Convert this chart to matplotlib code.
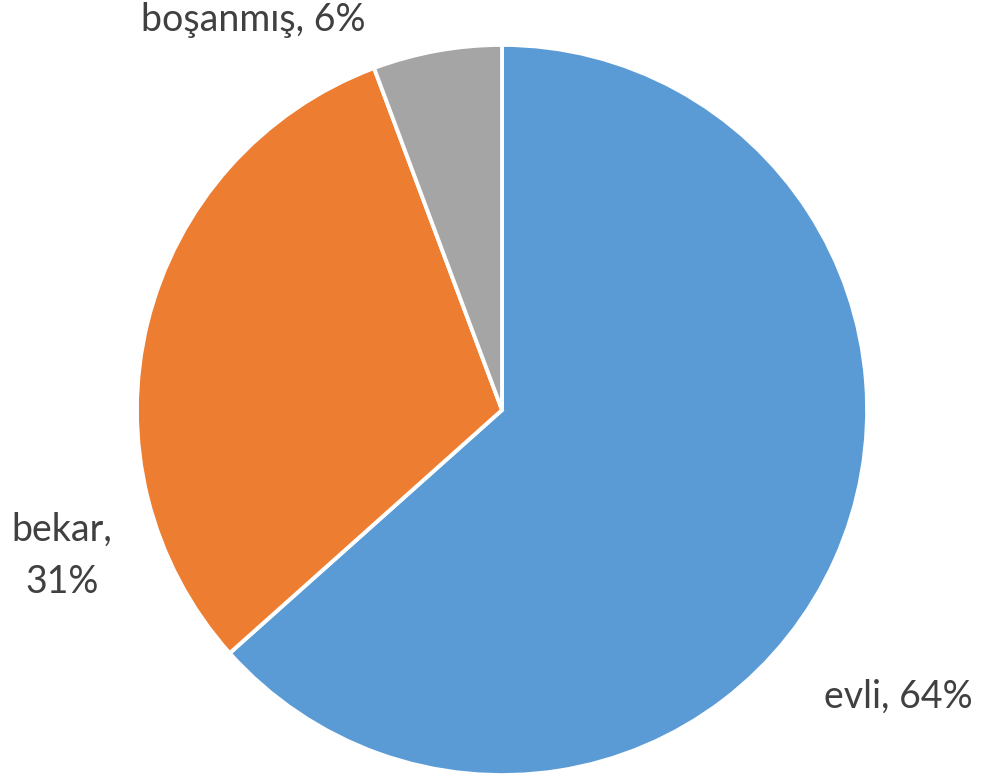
import matplotlib
matplotlib.use("Agg")
import matplotlib.pyplot as plt

categories = ["evli", "bekar", "boşanmış"]
values = [63.4, 30.9, 5.7]
pct_labels = ["64%", "31%", "6%"]
colors = ["#5B9BD5", "#ED7D31", "#A5A5A5"]

plt.rcParams['font.family'] = ['Lato', 'DejaVu Sans']

fig = plt.figure(figsize=(9.92, 7.78), dpi=100)
ax = fig.add_axes([0, 0, 1, 1])
ax.pie(values, colors=colors, startangle=90, counterclock=False,
       radius=1.0, center=(0, 0),
       wedgeprops=dict(edgecolor="white", linewidth=2.8))
ax.set_xlim(-1.375, 1.342)
ax.set_ylim(-1.008, 1.123)
ax.set_aspect('equal')
ax.axis('off')

label_pos = [(1.085, -0.786), (-1.205, -0.400), (-0.682, 1.068)]
texts = [f"{categories[0]}, {pct_labels[0]}",
         f"{categories[1]},\n{pct_labels[1]}",
         f"{categories[2]}, {pct_labels[2]}"]
for (x, y), t in zip(label_pos, texts):
    ax.text(x, y, t, ha='center', va='center', fontsize=27, color='#404040',
            linespacing=1.55)

fig.savefig("out.png", dpi=100)
